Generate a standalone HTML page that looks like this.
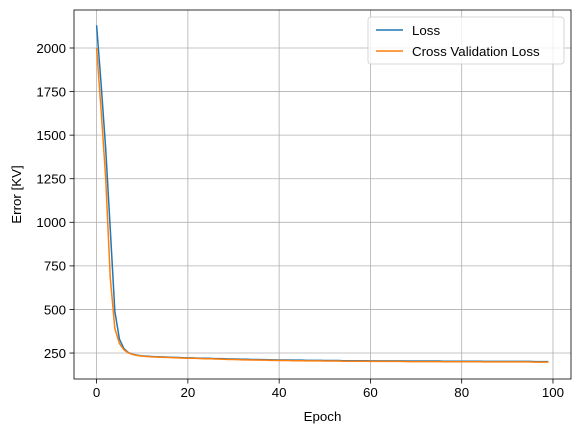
<!DOCTYPE html>
<html><head><meta charset="utf-8"><style>
body{margin:0;background:#fff;}
svg{display:block;font-family:"Liberation Sans","DejaVu Sans",sans-serif;}
</style></head><body>
<svg id="chart" width="580" height="432"></svg>
<script>
const epochs = Array.from({length:100},(_,i)=>i);
const lossValues = [2130,1790,1420,960,490,330,275,252,242,237,
234,232,230,229,228,227,226,225,224,223,
222,222,221,220,220,219,218,218,217,216,
216,215,214,214,213,213,212,212,211,211,
210,210,210,209,209,209,208,208,208,208,
207,207,207,207,206,206,206,206,206,206,
205,205,205,205,205,205,205,205,204,204,
204,204,204,204,204,204,203,203,203,203,
203,203,203,203,203,202,202,202,202,202,
202,202,202,202,202,202,201,201,201,201];
const cvValues = [2000,1640,1250,680,390,305,268,250,241,236,
232,230,228,227,226,225,224,223,222,221,
220,220,219,218,217,217,216,215,214,213,
213,212,211,211,210,210,209,209,208,208,
207,207,207,206,206,206,205,205,205,205,
204,204,204,204,203,203,203,203,203,203,
202,202,202,202,202,202,202,202,201,201,
201,201,201,201,201,201,200,200,200,200,
200,200,200,200,200,199,199,199,199,199,
199,199,199,199,199,199,198,198,198,198];
const xTicks = [0,20,40,60,80,100];
const yTicks = [250,500,750,1000,1250,1500,1750,2000];

const L=74,R=571,T=10,B=379;
const xMin=-4.95,xMax=103.95,yMin=101,yMax=2218;
const xs=v=>L+(v-xMin)/(xMax-xMin)*(R-L);
const ys=v=>B-(v-yMin)/(yMax-yMin)*(B-T);
const svg=document.getElementById('chart');
const NS='http://www.w3.org/2000/svg';
function mk(tag,attrs,parent){const e=document.createElementNS(NS,tag);for(const k in attrs)e.setAttribute(k,attrs[k]);(parent||svg).appendChild(e);return e;}

xTicks.forEach(t=>{
  const x=xs(t);
  const g=mk('line',{x1:x,x2:x,y1:T,y2:B,stroke:'#b0b0b0','stroke-width':0.8});
  
  
  mk('line',{x1:x,x2:x,y1:B,y2:B+4.5,stroke:'#000','stroke-width':0.8});
  const tx=mk('text',{x:x,y:B+18,'text-anchor':'middle','font-size':'13.3'});
  tx.textContent=t;
  
  
});
yTicks.forEach(t=>{
  const y=ys(t);
  const g=mk('line',{x1:L,x2:R,y1:y,y2:y,stroke:'#b0b0b0','stroke-width':0.8});
  
  
  mk('line',{x1:L-4.5,x2:L,y1:y,y2:y,stroke:'#000','stroke-width':0.8});
  const tx=mk('text',{x:L-8,y:y+4.8,'text-anchor':'end','font-size':'13.3'});
  tx.textContent=t;
  
  
});

function series(vals,color,name){
  const p=mk('polyline',{points:vals.map((v,i)=>xs(epochs[i])+','+ys(v)).join(' '),fill:'none',stroke:color,'stroke-width':1.5,'stroke-linejoin':'round'});
  
  
}
series(lossValues,'#1f77b4','loss-line');
series(cvValues,'#ff7f0e','cross-validation-loss-line');

const frame=mk('rect',{x:L,y:T,width:R-L,height:B-T,fill:'none',stroke:'#000','stroke-width':0.8});



const xl=mk('text',{x:(L+R)/2,y:421,'text-anchor':'middle','font-size':'13.3'});
xl.textContent='Epoch';


const yl=mk('text',{x:0,y:0,'text-anchor':'middle','font-size':'13.3',transform:'translate(21,'+((T+B)/2)+') rotate(-90)'});
yl.textContent='Error [KV]';



const lg=mk('g',{});


mk('rect',{x:368,y:17,width:196,height:47,rx:3,fill:'#fff','fill-opacity':0.8,stroke:'#ccc','stroke-width':0.8},lg);
[['Loss','#1f77b4',30],['Cross Validation Loss','#ff7f0e',51]].forEach(([lab,c,y])=>{
  const e=mk('g',{},lg);
  
  
  mk('line',{x1:376,x2:403,y1:y,y2:y,stroke:c,'stroke-width':1.5},e);
  const t=mk('text',{x:412,y:y+4.8,'font-size':'13.3'},e);
  t.textContent=lab;
});
</script>
</body></html>
